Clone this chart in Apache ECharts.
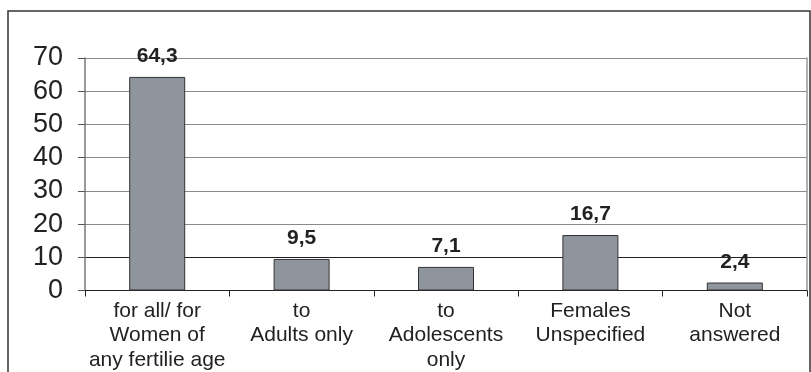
<!DOCTYPE html>
<html>
<head>
<meta charset="utf-8">
<script src="https://cdn.jsdelivr.net/npm/echarts@6/dist/echarts.min.js"></script>
<style>
  html, body { margin: 0; padding: 0; background: #fff; }
  #chart { width: 811px; height: 372px; }
</style>
</head>
<body>
<div id="chart"></div>
<script>
// Survey answer categories and their shares (%)
const categories = [
  'for all/ for\nWomen of\nany fertilie age',
  'to\nAdults only',
  'to\nAdolescents\nonly',
  'Females\nUnspecified',
  'Not\nanswered'
];
const shares = [64.3, 9.5, 7.1, 16.7, 2.4];
const yTicks = [0, 10, 20, 30, 40, 50, 60, 70];

const FONT = '"Liberation Sans", Arial, sans-serif';
const chart = echarts.init(document.getElementById('chart'), null, { renderer: 'canvas' });

// Gridline colours, one per tick from 0 upward (the 10 line is drawn darker)
const gridColors = yTicks.map(v => (v === 10 ? '#222' : '#8a8a8a'));

chart.setOption({
  animation: false,
  backgroundColor: '#fff',
  grid: { left: 85, right: 4, top: 58, bottom: 79, containLabel: false },
  graphic: [{
    type: 'rect',
    shape: { x: 8, y: 11, width: 802, height: 400 },
    style: { fill: 'none', stroke: '#333', lineWidth: 1.5 },
    silent: true,
    z: -1
  }],
  xAxis: {
    type: 'category',
    data: categories,
    axisLine: { show: true, lineStyle: { color: '#222', width: 1 } },
    axisTick: { show: true, alignWithLabel: false, length: 6, lineStyle: { color: '#222' } },
    axisLabel: {
      interval: 0,
      margin: 8,
      fontFamily: FONT,
      fontSize: 21,
      lineHeight: 24.5,
      color: '#222',
      verticalAlign: 'top'
    },
    splitLine: { show: false }
  },
  yAxis: [{
    type: 'value',
    min: 0,
    max: 70,
    interval: 10,
    axisLine: { show: true, lineStyle: { color: '#777', width: 1.5 } },
    axisTick: { show: true, inside: false, length: 7, lineStyle: { color: '#555' } },
    axisLabel: {
      margin: 22,
      fontFamily: FONT,
      fontSize: 27,
      color: '#222',
      formatter: v => String(v)
    },
    splitLine: { show: true, lineStyle: { color: gridColors, width: 1.2 } }
  }, {
    type: 'value',
    position: 'right',
    min: 0,
    max: 70,
    interval: 10,
    axisLine: { show: true, lineStyle: { color: '#999', width: 1.5 } },
    axisTick: { show: false },
    axisLabel: { show: false },
    splitLine: { show: false }
  }],
  series: [{
    type: 'bar',
    data: shares,
    barWidth: 56,
    itemStyle: { color: '#8e959d', borderColor: '#333', borderWidth: 1 },
    label: {
      show: true,
      position: 'top',
      distance: 10,
      fontFamily: FONT,
      fontSize: 21,
      fontWeight: 'bold',
      color: '#222',
      formatter: p => String(p.value).replace('.', ',')
    }
  }]
});
</script>
</body>
</html>
